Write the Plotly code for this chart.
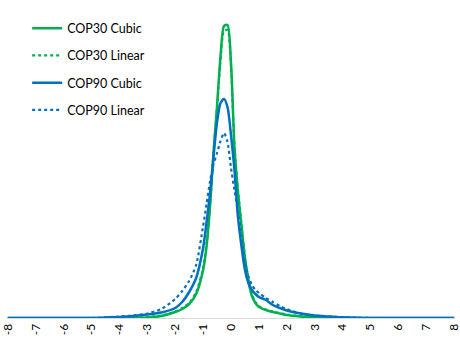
import plotly.graph_objects as go

x_vals = [-8, -6, -5, -4.5, -4, -3.5, -3, -2.5, -2, -1.75, -1.5, -1.25, -1,
          -0.875, -0.75, -0.625, -0.5, -0.375, -0.25, -0.125, 0, 0.125, 0.25,
          0.375, 0.5, 0.625, 0.75, 0.875, 1, 1.25, 1.5, 1.75, 2, 2.5, 3, 3.5,
          4, 4.5, 5, 6, 8]

cop30_cubic = [0, 0, 0, 0, 0, 0.02, 0.06, 0.2, 0.6, 0.9, 1.4, 2.4, 4.8,
               7.2, 11.2, 16.6, 21.2, 26.2, 29.2, 29.3, 25.5, 17.0, 12.6,
               9.2, 6.0, 3.7, 2.2, 1.5, 1.1, 0.8, 0.6, 0.45, 0.3, 0.15, 0.05, 0.01,
               0, 0, 0, 0, 0]

cop30_linear = [0, 0, 0, 0, 0, 0.03, 0.1, 0.25, 0.65, 1.0, 1.5, 2.6, 5.0,
                7.5, 11.4, 16.6, 21.0, 25.8, 28.7, 28.8, 25.2, 17.2, 12.8,
                9.4, 6.2, 3.9, 2.4, 1.6, 1.2, 0.85, 0.65, 0.5, 0.35, 0.18, 0.07, 0.02,
                0, 0, 0, 0, 0]

cop90_cubic = [0, 0, 0, 0.05, 0.1, 0.2, 0.35, 0.55, 1.0, 1.6, 2.6, 4.0, 7.0,
               9.6, 12.5, 16.2, 19.6, 21.5, 21.9, 21.1, 18.3, 14.8, 10.1,
               7.2, 4.8, 3.5, 2.8, 2.4, 2.1, 1.8, 1.3, 1.0, 0.75, 0.45, 0.25, 0.15,
               0.07, 0.03, 0, 0, 0]

cop90_linear = [0, 0, 0, 0.06, 0.15, 0.25, 0.45, 0.9, 1.9, 2.7, 3.7, 5.3, 9.2,
                11.4, 13.7, 15.4, 16.5, 17.7, 18.5, 17.6, 15.0, 12.8, 10.6,
                8.2, 5.6, 4.2, 3.3, 2.8, 2.5, 2.0, 1.6, 1.2, 0.9, 0.45, 0.25, 0.15,
                0.08, 0.04, 0, 0, 0]

tick_vals = list(range(-8, 9))
tick_text = [str(v) for v in tick_vals]

GREEN = "#00B050"
BLUE = "#0070C0"

series = [
    ("COP30 Cubic", cop30_cubic, GREEN, "solid", 2.5),
    ("COP30 Linear", cop30_linear, GREEN, "dot", 2.2),
    ("COP90 Cubic", cop90_cubic, BLUE, "solid", 2.5),
    ("COP90 Linear", cop90_linear, BLUE, "dot", 2.2),
]

fig = go.Figure()
for i, (name, ys, col, dash, w) in enumerate(series):
    fig.add_trace(go.Scatter(
        x=x_vals, y=ys, name=name, mode="lines",
        line=dict(color=col, dash=dash, width=w, shape="spline", smoothing=0.7),
        legendgroup=f"g{i}",
    ))

fig.update_layout(
    width=460, height=340,
    margin=dict(l=7, r=5, t=18, b=22),
    paper_bgcolor="white", plot_bgcolor="white",
    font=dict(family="Lato, 'Open Sans', sans-serif", size=12, color="#000000"),
    showlegend=True,
    legend=dict(x=0.045, y=1.015, xanchor="left", yanchor="top",
                bgcolor="rgba(255,255,255,0)", tracegroupgap=8,
                font=dict(size=12.5, color="#000000")),
    xaxis=dict(range=[-8.03, 8.03], tickmode="array", tickvals=tick_vals,
               ticktext=tick_text, tickangle=-90, showgrid=False,
               zeroline=False, showline=True, linecolor="#D9D9D9",
               linewidth=1, ticks="", ticklabeloverflow="allow",
               automargin=False,
               tickfont=dict(size=12, color="#000000")),
    yaxis=dict(range=[0, 30], visible=False, showgrid=False, zeroline=False),
)

fig.write_html("out.html")
